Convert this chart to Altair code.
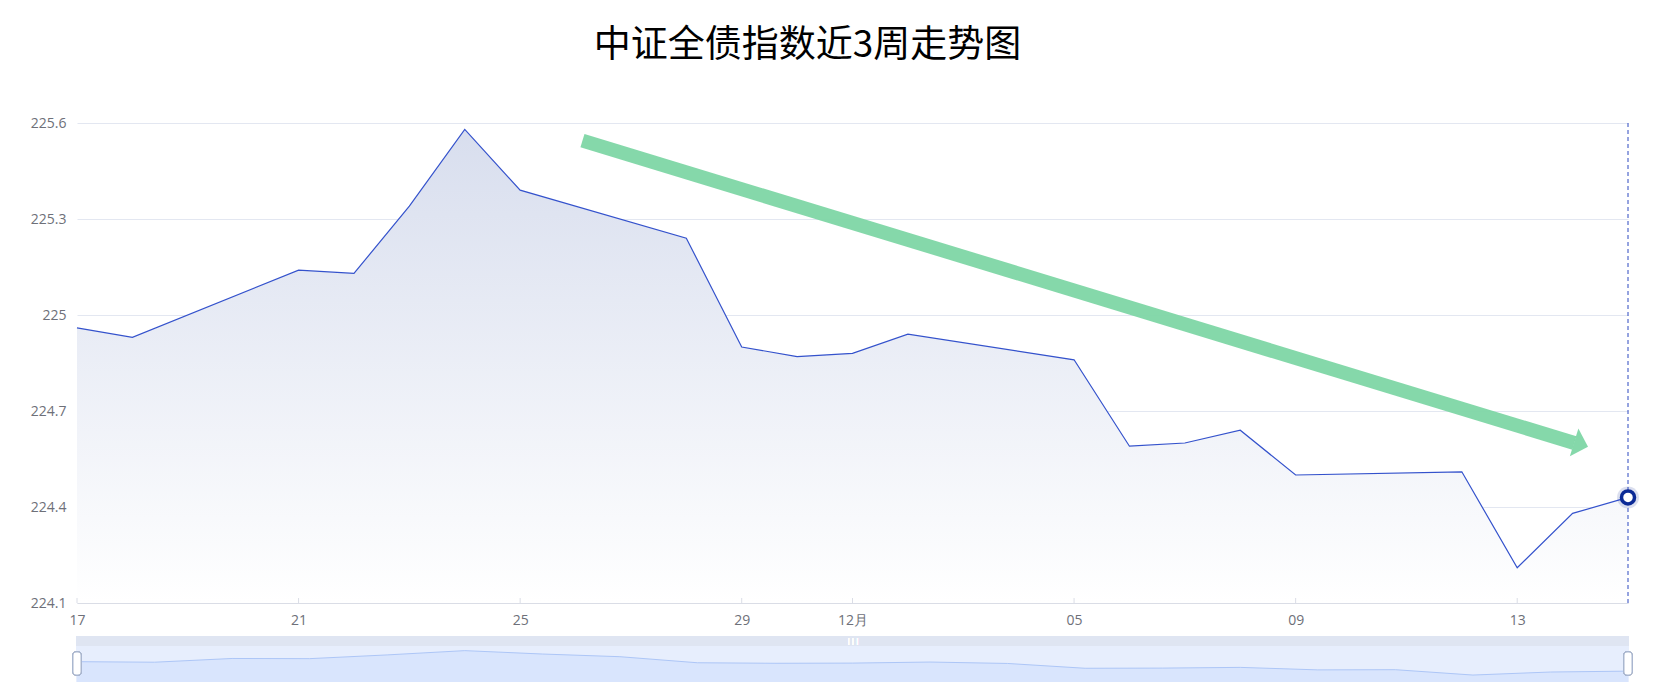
import altair as alt
import pandas as pd

# ---- data ----
dates = ["2022-11-17", "2022-11-18", "2022-11-21", "2022-11-22", "2022-11-23",
         "2022-11-24", "2022-11-25", "2022-11-28", "2022-11-29", "2022-11-30",
         "2022-12-01", "2022-12-02", "2022-12-05", "2022-12-06", "2022-12-07",
         "2022-12-08", "2022-12-09", "2022-12-12", "2022-12-13", "2022-12-14",
         "2022-12-15"]
values = [224.96, 224.93, 225.14, 225.13, 225.34,
          225.58, 225.39, 225.24, 224.90, 224.87,
          224.88, 224.94, 224.86, 224.59, 224.60,
          224.64, 224.50, 224.51, 224.21, 224.38,
          224.43]
y_ticks = [224.1, 224.4, 224.7, 225.0, 225.3, 225.6]
x_tick_dates = ["2022-11-17", "2022-11-21", "2022-11-25", "2022-11-29",
                "2022-12-01", "2022-12-05", "2022-12-09", "2022-12-13"]
title_text = "中证全债指数近3周走势图"

# trend arrow (annotation) in data space
arrow_dates = ["2022-11-26T03:00:00Z", "2022-12-14T00:45:00Z"]
arrow_values = [225.545, 224.600]
arrow_head_date = ["2022-12-14T03:40:00Z"]
arrow_head_value = [224.595]

W, H = 1551, 480

df = pd.DataFrame({"date": dates, "value": values, "idx": list(range(len(dates)))})
last = df.tail(1)
ticks_df = pd.DataFrame({"date": x_tick_dates})
arrow_df = pd.DataFrame({"date": arrow_dates, "value": arrow_values})
head_df = pd.DataFrame({"date": arrow_head_date, "value": arrow_head_value})

xscale = alt.Scale(type="utc", domain=[alt.DateTime(year=2022, month=11, date=17, utc=True),
                                       alt.DateTime(year=2022, month=12, date=15, utc=True)])
yscale = alt.Scale(domain=[224.1, 225.6], zero=False, nice=False)

x_axis = alt.Axis(
    values=[alt.DateTime(year=int(d[:4]), month=int(d[5:7]), date=int(d[8:10]), utc=True) for d in x_tick_dates],
    labelExpr="utcdate(datum.value) == 1 ? (utcmonth(datum.value) + 1) + '月' : utcFormat(datum.value, '%d')",
    title=None, grid=False, ticks=False, tickSize=0, labelPadding=10, labelFlush=False,
    domainColor="#dadde6", domainWidth=1,
    labelFont="Open Sans", labelFontSize=14, labelColor="#6e7079",
)
y_axis = alt.Axis(
    values=y_ticks,
    labelExpr="datum.value == round(datum.value) ? format(datum.value, 'd') : format(datum.value, '.1f')",
    title=None, grid=True, gridColor="#e3e7f1", gridWidth=1, domain=False, ticks=False, tickSize=0,
    labelPadding=11, labelFont="Open Sans", labelFontSize=14, labelColor="#6e7079",
)

X = alt.X("date:T", scale=xscale, axis=x_axis)
Y = alt.Y("value:Q", scale=yscale, axis=y_axis)

base = alt.Chart(df)

area = base.mark_area(
    color=alt.Gradient(gradient="linear", x1=0, y1=0, x2=0, y2=1,
                       stops=[alt.GradientStop(offset=0, color="#d8deee"),
                              alt.GradientStop(offset=1, color="#ffffff")]),
).encode(x=X, y=Y, y2=alt.datum(224.1))

line = base.mark_line(color="#3452cc", strokeWidth=1.2).encode(x=X, y=Y)

xticks = alt.Chart(ticks_df).mark_rule(color="#dadde6").encode(
    x=alt.X("date:T", scale=xscale), y=alt.value(H - 5), y2=alt.value(H))

crosshair = alt.Chart(last).mark_rule(color="#2c49c0", strokeDash=[4, 3], strokeWidth=1).encode(
    x=alt.X("date:T", scale=xscale), y=alt.value(0), y2=alt.value(H))

arrow_line = alt.Chart(arrow_df).mark_line(color="#7ed6a5", strokeWidth=14, strokeCap="butt", opacity=0.95).encode(
    x=alt.X("date:T", scale=xscale), y=alt.Y("value:Q", scale=yscale))
arrow_head = alt.Chart(head_df).mark_point(
    shape="M-0.5,-1L0.5,0L-0.5,1Z", filled=True, color="#7ed6a5", opacity=0.95, size=841, angle=17
).encode(x=alt.X("date:T", scale=xscale), y=alt.Y("value:Q", scale=yscale))

glow = alt.Chart(last).mark_point(filled=True, color="#0b2a96", opacity=0.15, size=480).encode(
    x=alt.X("date:T", scale=xscale), y=alt.Y("value:Q", scale=yscale))
endpt = alt.Chart(last).mark_point(filled=False, fill="white", fillOpacity=1, color="#0b2a96",
                                   strokeWidth=3.5, size=170, opacity=1).encode(
    x=alt.X("date:T", scale=xscale), y=alt.Y("value:Q", scale=yscale))

main = alt.layer(area, line, xticks, crosshair, arrow_line, arrow_head, glow, endpt)

# ---- data zoom slider ----
mini_x = alt.X("idx:Q", scale=alt.Scale(domain=[0, len(dates) - 1], nice=False, zero=False), axis=None)
mini_y = alt.Y("value:Q", scale=alt.Scale(domain=[223.82, 225.84], range=[559, 523], zero=False, nice=False), axis=None)

strip = base.mark_rect(color="#dfe5f2").encode(x=alt.value(-1), x2=alt.value(W + 1), y=alt.value(513), y2=alt.value(523))
sbg = base.mark_rect(color="#e7eefd").encode(x=alt.value(-1), x2=alt.value(W + 1), y=alt.value(523), y2=alt.value(559))
mini_area = base.mark_area(color="#d3e1fc", line={"color": "#adc6f7", "strokeWidth": 1}).encode(
    x=mini_x, y=mini_y, y2=alt.datum(223.82))
grip = base.mark_text(text="|||", color="#ffffff", fontSize=8, font="Open Sans").encode(
    x=alt.value(776), y=alt.value(518))
handle_l = base.mark_rect(fill="white", stroke="#a9b6cf", strokeWidth=1, cornerRadius=3).encode(
    x=alt.value(-4), x2=alt.value(4), y=alt.value(529), y2=alt.value(552))
handle_r = base.mark_rect(fill="white", stroke="#a9b6cf", strokeWidth=1, cornerRadius=3).encode(
    x=alt.value(W - 4), x2=alt.value(W + 4), y=alt.value(529), y2=alt.value(552))

slider = alt.layer(strip, sbg, mini_area, grip, handle_l, handle_r)

chart = alt.layer(main, slider).resolve_scale(x="independent", y="independent").properties(
    width=W, height=H,
    padding={"left": 69, "top": 115, "right": 24, "bottom": 79},
    autosize=alt.AutoSizeParams(type="none"),
    title=alt.TitleParams(text=title_text, font="Noto Sans CJK SC", fontSize=37, fontWeight="normal",
                          color="#000000", anchor="middle", dx=-45, offset=48),
).configure_view(stroke=None)

chart.save("out.html", embed_options={"renderer": "svg", "actions": False})
